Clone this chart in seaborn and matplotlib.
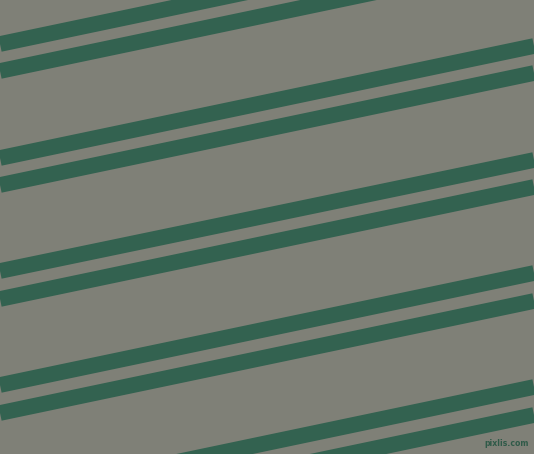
"""Diagonal double-stripe pattern on a grey background."""

import matplotlib
matplotlib.use("Agg")
import matplotlib.pyplot as plt
import numpy as np
import pandas as pd
import seaborn as sns

# Stripe centre heights (pixels from top) at the left and right edges
stripe_ids = list(range(12))
left_y = [-70, -43, 44, 71, 158, 185, 271, 299, 385, 413, 499, 527]
right_y = [-182, -155, -68, -41, 46, 73, 160, 187, 273, 301, 387, 415]
edge_x = [0, 534]

background = "#7f8077"
stripe_color = "#336250"

W, H = 534, 454
PAD = 40  # draw on a bigger canvas so stroke ends are not cut at the edge

rows = []
for sid, ly, ry in zip(stripe_ids, left_y, right_y):
    rows.append({"stripe": sid, "x": edge_x[0], "y": ly})
    rows.append({"stripe": sid, "x": edge_x[1], "y": ry})
df = pd.DataFrame(rows)

sns.set_style("white")
fig = plt.figure(figsize=((W + 2 * PAD) / 100, (H + 2 * PAD) / 100), dpi=100)
fig.patch.set_facecolor(background)
ax = fig.add_axes([0, 0, 1, 1])
ax.set_facecolor(background)

sns.lineplot(
    data=df, x="x", y="y", units="stripe", estimator=None,
    color=stripe_color, linewidth=11.3, ax=ax,
    solid_capstyle="butt", legend=False,
)

ax.set_xlim(-PAD, W + PAD)
ax.set_ylim(H + PAD, -PAD)
ax.axis("off")

ax.text(529, 448, "pixlis.com", ha="right", va="bottom",
        fontsize=5.6, fontweight="bold", color="#2f5a48",
        family="DejaVu Sans")

fig.canvas.draw()
img = np.asarray(fig.canvas.buffer_rgba())
plt.imsave("out.png", img[PAD:PAD + H, PAD:PAD + W])
